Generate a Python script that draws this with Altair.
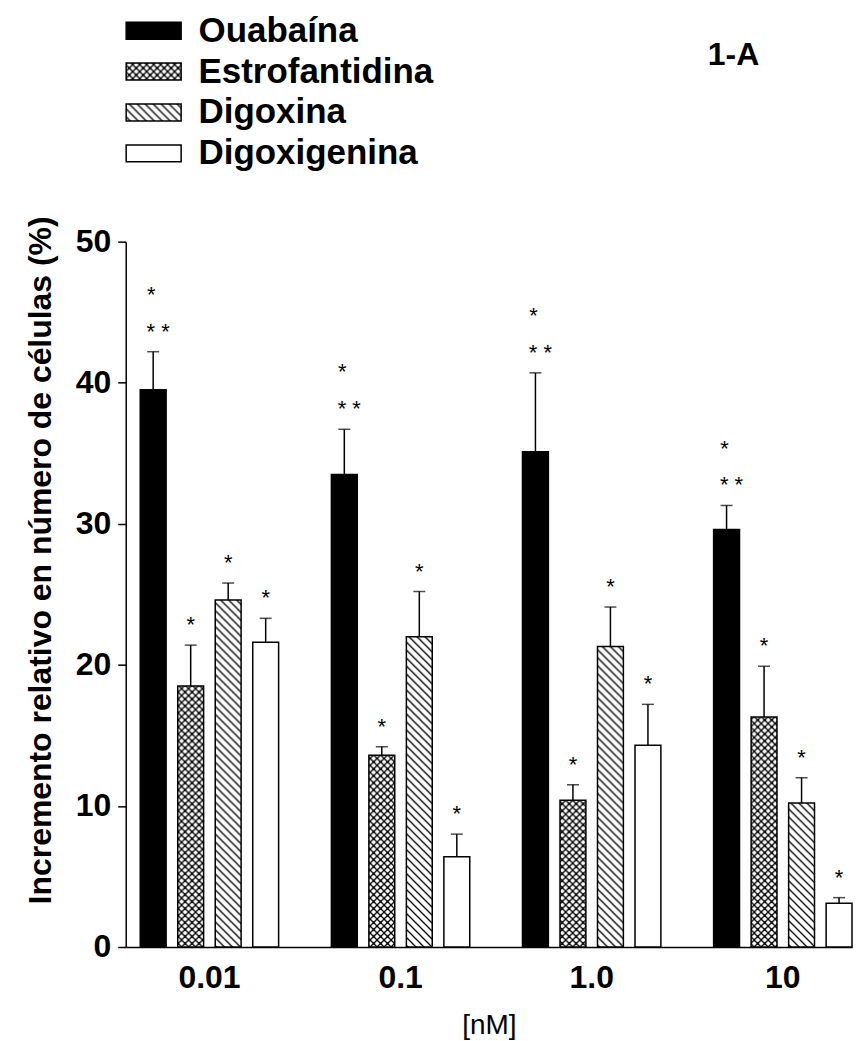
import altair as alt
import pandas as pd
import jinja2

# ---------------- data ----------------
concs = ["0.01", "0.1", "1.0", "10"]
series = ["Ouabaína", "Estrofantidina", "Digoxina", "Digoxigenina"]

ouabaina = [39.5, 33.5, 35.1, 29.6]
ouabaina_err = [2.7, 3.2, 5.6, 1.7]
estrofantidina = [18.5, 13.6, 10.4, 16.3]
estrofantidina_err = [2.9, 0.6, 1.1, 3.6]
digoxina = [24.6, 22.0, 21.3, 10.2]
digoxina_err = [1.2, 3.2, 2.8, 1.8]
digoxigenina = [21.6, 6.4, 14.3, 3.1]
digoxigenina_err = [1.7, 1.6, 2.9, 0.4]

values = [ouabaina, estrofantidina, digoxina, digoxigenina]
errors = [ouabaina_err, estrofantidina_err, digoxina_err, digoxigenina_err]
sig_near = ["* *", "*", "*", "*"]
sig_far = ["*", "", "", ""]

fills = ["black", "url(#cross)", "url(#diag)", "white"]

rows = []
for si, s in enumerate(series):
    for ci, c in enumerate(concs):
        v = values[si][ci]
        e = errors[si][ci]
        rows.append({"conc": c, "series": s, "value": v, "err": e, "top": v + e,
                     "near": sig_near[si], "far": sig_far[si]})
df = pd.DataFrame(rows)

FONT = "Liberation Sans"

base = alt.Chart(df).encode(
    x=alt.X("conc:N", sort=concs,
            scale=alt.Scale(paddingInner=0.276, paddingOuter=0.038, align=1),
            axis=alt.Axis(title="[nM]", labelAngle=0, ticks=False, grid=False,
                          domainColor="black", domainWidth=1.5,
                          labelFont=FONT, labelFontSize=32, labelFontWeight="bold",
                          labelColor="black", labelPadding=16,
                          titleFont=FONT, titleFontSize=28, titleFontWeight="normal",
                          titleColor="black", titlePadding=18)),
    xOffset=alt.XOffset("series:N", sort=series,
                        scale=alt.Scale(paddingInner=0.31, paddingOuter=0)),
)

yscale = alt.Scale(domain=[0, 50], nice=False)

bars = base.mark_bar(stroke="black", strokeWidth=1.5).encode(
    y=alt.Y("value:Q", scale=yscale,
            axis=alt.Axis(values=[0, 10, 20, 30, 40, 50], grid=False,
                          domainColor="black", domainWidth=1.5,
                          tickColor="black", tickWidth=1.5, tickSize=8,
                          labelFont=FONT, labelFontSize=32, labelFontWeight="bold",
                          labelColor="black", labelPadding=7,
                          title="Incremento relativo en número de células (%)",
                          titleFont=FONT, titleFontSize=32, titleFontWeight="bold",
                          titleColor="black", titleAngle=270, titleX=-75, titleY=319,
                          titleBaseline="alphabetic", titleAlign="center")),
    fill=alt.Fill("series:N", sort=series,
                  scale=alt.Scale(domain=series, range=fills),
                  legend=alt.Legend(orient="none", legendX=10.5, legendY=-229,
                                    title=None, padding=0,
                                    labelFont=FONT, labelFontSize=35,
                                    labelFontWeight="bold", labelColor="black",
                                    labelOffset=27.5, labelBaseline="middle",
                                    labelLimit=500,
                                    symbolType="M-3.24,-1H3.24V1H-3.24Z",
                                    symbolSize=289, symbolStrokeColor="black",
                                    symbolStrokeWidth=1.5, rowPadding=5)),
)

err_rule = base.mark_rule(color="black", strokeWidth=1.5).encode(
    y=alt.Y("value:Q", scale=yscale), y2="top:Q")

cap = base.mark_tick(color="black", thickness=1.5, size=12, orient="horizontal").encode(
    y=alt.Y("top:Q", scale=yscale))

star_font = dict(font=FONT, fontSize=22, color="black", baseline="middle")

stars_single = base.transform_filter(alt.datum.series != "Ouabaína").mark_text(
    align="center", dy=-20, **star_font).encode(
    y=alt.Y("top:Q", scale=yscale), text="near:N")

stars_double = base.transform_filter(alt.datum.series == "Ouabaína").mark_text(
    align="center", dx=5, dy=-20, **star_font).encode(
    y=alt.Y("top:Q", scale=yscale), text="near:N")

stars_far = base.transform_filter(alt.datum.series == "Ouabaína").mark_text(
    align="center", dx=-2, dy=-57, **star_font).encode(
    y=alt.Y("top:Q", scale=yscale), text="far:N")

chart = alt.layer(bars, err_rule, cap, stars_single, stars_double, stars_far).properties(
    width=728, height=707,
    padding={"left": 16, "top": 4, "right": 0, "bottom": 0},
    title=alt.TitleParams("1-A", anchor="end", frame="group", orient="top",
                          font=FONT, fontSize=32, fontWeight="bold", color="black",
                          offset=0, dx=-93, dy=59),
).configure_view(stroke=None).configure_axis(grid=False)

# SVG hatch patterns referenced by the fill scale above
DEFS = (
    '<svg width="0" height="0" style="position:absolute;left:0;top:0" aria-hidden="true"><defs>'
    '<pattern id="cross" patternUnits="userSpaceOnUse" width="7" height="7">'
    '<rect width="7" height="7" fill="white"/>'
    '<path d="M0,0L7,7M7,0L0,7" stroke="black" stroke-width="1.3"/>'
    '<rect x="2.5" y="2.5" width="2" height="2" fill="black"/>'
    '</pattern>'
    '<pattern id="diag" patternUnits="userSpaceOnUse" width="8" height="8">'
    '<rect width="8" height="8" fill="white"/>'
    '<path d="M-2,-2L10,10M-2,6L2,10M6,-2L10,2" stroke="black" stroke-width="1.3"/>'
    '</pattern>'
    '</defs></svg>'
)


class PatternTemplate(jinja2.Template):
    def render(self, *args, **kwargs):
        from altair.utils import html as _alt_html
        out = _alt_html.TEMPLATES["standard"].render(*args, **kwargs)
        if "</body>" in out:
            return out.replace("</body>", DEFS + "</body>", 1)
        return out + DEFS


try:
    _tmpl = PatternTemplate("")
except Exception:
    _tmpl = None

if _tmpl is not None:
    try:
        chart.save("out.html", embed_options={"renderer": "svg", "actions": False}, template=_tmpl)
    except Exception:
        chart.save("out.html", embed_options={"renderer": "svg", "actions": False})
else:
    chart.save("out.html", embed_options={"renderer": "svg", "actions": False})
